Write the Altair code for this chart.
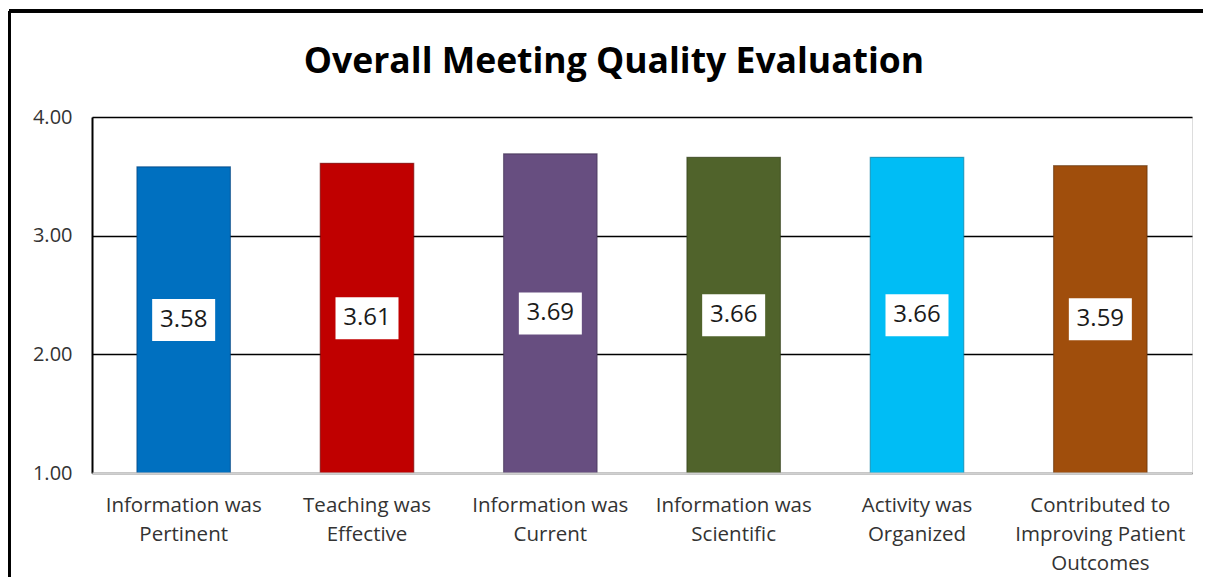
import altair as alt
import pandas as pd

title_text = "Overall Meeting Quality Evaluation"
categories = [
    "Information was\nPertinent",
    "Teaching was\nEffective",
    "Information was\nCurrent",
    "Information was\nScientific",
    "Activity was\nOrganized",
    "Contributed to\nImproving Patient\nOutcomes",
]
values = [3.58, 3.61, 3.69, 3.66, 3.66, 3.59]
colors = ["#0070C0", "#C00000", "#674E80", "#50632B", "#00BDF5", "#A04E0C"]
edge_colors = ["#00407A", "#700000", "#3E2E4E", "#2E3A18", "#007A9E", "#5E2E06"]
y_ticks = [1, 2, 3, 4]

df = pd.DataFrame({"category": categories, "value": values})

FONT = "Open Sans"
W, H = 1100, 356

x_enc = alt.X(
    "category:N",
    sort=categories,
    scale=alt.Scale(paddingInner=0.49, paddingOuter=0.245),
    axis=alt.Axis(
        title=None, labelAngle=0, labelFontSize=20.5, labelLineHeight=29,
        labelPadding=22, labelColor="#333333", labelFont=FONT, labelLimit=0,
        labelExpr="split(datum.label, '\\n')", ticks=False,
        domainColor="#D0D0D0", domainWidth=2, zindex=1, labelBaseline="top",
    ),
)
y_scale = alt.Scale(domain=[1, 4], nice=False, zero=False)

bars = alt.Chart(df).mark_bar(strokeWidth=1.2, strokeOpacity=0.6).encode(
    x=x_enc,
    y=alt.Y(
        "value:Q", scale=y_scale,
        axis=alt.Axis(
            title=None, values=y_ticks, format=".2f", labelFontSize=20,
            labelColor="#333333", labelFont=FONT, labelPadding=20, ticks=False,
            gridColor="#000000", gridWidth=1.6, domainColor="#000000", domainWidth=2,
        ),
    ),
    y2=alt.datum(1),
    fill=alt.Color("category:N", scale=alt.Scale(domain=categories, range=colors), legend=None),
    stroke=alt.Color("category:N", scale=alt.Scale(domain=categories, range=edge_colors), legend=None),
)

base = alt.Chart(df).transform_calculate(mid="(datum.value + 1) / 2")

boxes = base.mark_point(
    shape="M-1.5,-1H1.5V1H-1.5Z", filled=True, fill="white", opacity=1, size=1764, strokeWidth=0
).encode(x=alt.X("category:N", sort=categories), y=alt.Y("mid:Q", scale=y_scale))

labels = base.mark_text(font=FONT, fontSize=24, color="#1a1a1a").encode(
    x=alt.X("category:N", sort=categories),
    y=alt.Y("mid:Q", scale=y_scale),
    text=alt.Text("value:Q", format=".2f"),
)

title = alt.Chart(pd.DataFrame({"t": [title_text]})).mark_text(
    font=FONT, fontSize=35.5, fontWeight="bold", color="#000000",
    align="center", baseline="alphabetic",
).encode(text="t:N", x=alt.value(522), y=alt.value(-44))

border_top = alt.Chart(df).mark_rule(color="#000000", strokeWidth=3).encode(
    x=alt.value(-83), x2=alt.value(1200), y=alt.value(-106)
)
border_left = alt.Chart(df).mark_rule(color="#000000", strokeWidth=3).encode(
    x=alt.value(-83), y=alt.value(-106), y2=alt.value(600)
)

chart = alt.layer(bars, boxes, labels, title, border_top, border_left).properties(
    width=W, height=H,
    padding={"left": 84, "top": 109, "right": 11, "bottom": 104},
    autosize=alt.AutoSizeParams(type="none"),
).configure_view(stroke="#000000", strokeWidth=2).configure(background="white")

chart.save("out.html", embed_options={"renderer": "svg", "actions": False})
